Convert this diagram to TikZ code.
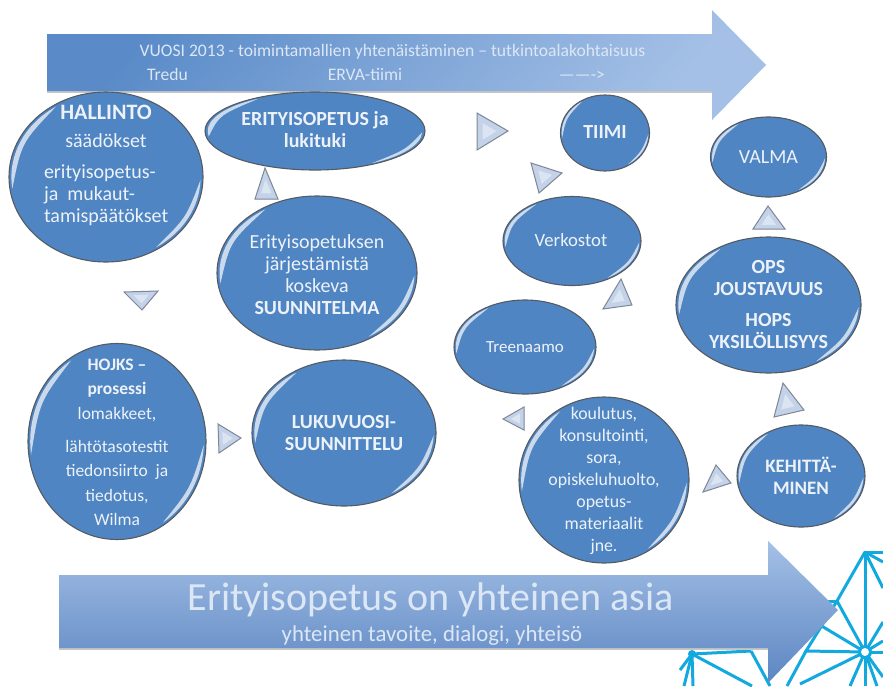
\documentclass[tikz,border=0pt]{standalone}
\usepackage{fontspec}
\setmainfont{Carlito}
\usetikzlibrary{shapes.geometric,calc}
\definecolor{bubfill}{HTML}{4F85C2}
\definecolor{bubline}{HTML}{555B63}
\definecolor{txtc}{HTML}{EDF2F9}
\definecolor{toptxt}{HTML}{DCE7F5}
\definecolor{star}{HTML}{12A9DE}
\definecolor{trifill}{HTML}{C3D2E8}
\definecolor{triline}{HTML}{7E8794}
\definecolor{arrA}{HTML}{5A8BC8}
\definecolor{arrB}{HTML}{A4C0E6}
\definecolor{arrC}{HTML}{5C86C2}
\newcommand{\bubsize}{20}
\tikzset{
  bubble/.style={ellipse,draw=bubline,line width=1.1pt,fill=bubfill,inner sep=0pt},
  bubtext/.style={text=txtc,align=center,inner sep=0pt,font=\fontsize{\bubsize}{22}\selectfont},
  hilite/.style={fill=white,opacity=.7},
  tribox/.style={draw=triline,line width=1pt,fill=trifill,line join=miter},
  trihl/.style={fill=white,opacity=.4},
  starline/.style={draw=star,line width=3pt,line cap=butt},
  bannertext/.style={text=toptxt,inner sep=0pt,font=\fontsize{17.6}{20}\selectfont},
}
% name, cx, cy, rx, ry, text dx, text dy, text
\newcommand{\bub}[8]{%
  \node[bubble,minimum width=2*#4 pt,minimum height=2*#5 pt] (#1) at (#2,#3) {};
  \begin{scope}[shift={(#2,#3)},x=#4 pt,y=#5 pt]
    \fill[hilite] (188:.975) arc[start angle=188,end angle=122,radius=.975]
      .. controls (155:.96) .. (188:.975);
    \fill[hilite] (-2:.975) arc[start angle=-2,end angle=-58,radius=.975]
      .. controls (-30:.955) .. (-2:.975);
  \end{scope}
  \node[bubtext] (#1-t) at (#2+#6,#3+#7) {#8};
}
% name, three corners
\newcommand{\tri}[4]{%
  \coordinate (#1a) at #2; \coordinate (#1b) at #3; \coordinate (#1c) at #4;
  \coordinate (#1m) at (barycentric cs:#1a=1,#1b=1,#1c=1);
  \draw[tribox] (#1a) -- (#1b) -- (#1c) -- cycle;
  \fill[trihl] ($(#1m)!.45!(#1a)$) -- ($(#1m)!.45!(#1b)$) -- ($(#1m)!.45!(#1c)$) -- cycle;
}
\begin{document}
\begin{tikzpicture}[x=1pt,y=-1pt]
\useasboundingbox (0,0) rectangle (883,686);
\fill[white] (0,0) rectangle (883,686);

% star pattern
\coordinate (hubA) at (865,652);
\coordinate (hubB) at (692,654);
\coordinate (starTop) at (865,552);
\coordinate (starMid) at (837,601);
\coordinate (starLow) at (806,651);
\coordinate (starR) at (751,651);
\draw[starline] (883,552) -- (starTop) -- (hubA);
\draw[starline] (starTop) -- (starMid) -- (hubA);
\draw[starline] (starMid) -- (starLow) -- (hubA);
\draw[starline] (starMid) -- (812,601);
\draw[starline] (815,622) -- (hubA);
\draw[starline] (starTop) -- (883,562);
\draw[starline] (starTop) -- (883,588);
\draw[starline] (hubA) -- (883,652);
\draw[starline] (hubA) -- (883,641);
\draw[starline] (hubA) -- (883,622);
\draw[starline] (hubA) -- (800,684);
\draw[starline] (hubA) -- (850,686);
\draw[starline] (hubA) -- (865,686);
\draw[starline] (hubA) -- (877,686);
\draw[starline] (hubA) -- (883,677);
\draw[starline] (starLow) -- (787,686);
\draw[starline] (starR) -- (770,686);
\draw[starline] (hubB) -- (752,686);
\draw[starline] (hubB) -- (693,686);
\draw[starline] (hubB) -- (684,686);
\draw[starline] (hubB) -- (680,670);
\draw[starline] (hubB) -- (starR);
\fill[star] (hubB) circle (4);
\fill[star] (hubA) circle (7);
\fill[white] (hubA) circle (4);

% banner arrows
\fill[gray!45] (47,91) rectangle (712,93);
\shade[left color=arrA,right color=arrB,shading angle=50]
  (47,34) -- (712,34) -- (712,10) -- (766,65) -- (712,120) -- (712,91) -- (47,91) -- cycle;
\node[bannertext] (top1) at (392.5,52) {VUOSI 2013 - toimintamallien yhtenäistäminen – tutkintoalakohtaisuus};
\node[bannertext] (top2) at (167.5,74) {Tredu};
\node[bannertext] (top3) at (365,74) {ERVA-tiimi};
\node[bannertext] (top4) at (582,75.5) {------->};

\fill[gray!45] (59,648) rectangle (768,650);
\shade[top color=arrB,bottom color=arrC]
  (59,575) -- (768,575) -- (768,541) -- (838,610) -- (768,683) -- (768,648) -- (59,648) -- cycle;
\node[text=toptxt,inner sep=0pt,font=\fontsize{40}{44}\selectfont] (low1) at (430.5,600) {Erityisopetus on yhteinen asia};
\node[text=toptxt,inner sep=0pt,font=\fontsize{22.8}{26}\selectfont] (low2) at (432,636) {yhteinen tavoite, dialogi, yhteisö};

% bubbles
\bub{hallinto}{106}{177}{97}{85}{0}{-12}{\fontsize{22}{24}\selectfont\textbf{HALLINTO}\\[6pt]
  säädökset\\[9pt]\makebox[124pt][l]{erityisopetus-}\\\makebox[124pt][l]{ja\ \ mukaut-}\\\makebox[124pt][l]{tamispäätökset}}
\bub{erityis}{315}{131}{110}{39}{0}{-1}{\textbf{ERITYISOPETUS ja}\\\textbf{lukituki}}
\bub{suunn}{317}{273}{100}{77}{0}{2}{Erityisopetuksen\\järjestämistä\\koskeva\\\textbf{SUUNNITELMA}}
\renewcommand{\bubsize}{17.5}
\bub{hojks}{117}{441.5}{89}{98}{0}{1}{\textbf{HOJKS –}\\[2.5pt]\textbf{prosessi}\\[2.5pt]lomakkeet,\\[11pt]lähtötasotestit\\[2.5pt]tiedonsiirto\ \ ja\\[2.5pt]tiedotus,\\[2.5pt]Wilma}
\renewcommand{\bubsize}{20}
\bub{luku}{344}{433}{92}{73}{0}{0}{\textbf{LUKUVUOSI-}\\\textbf{SUUNNITTELU}}
\bub{tiimi}{605}{133}{44.5}{38}{0}{-1}{\textbf{TIIMI}}
\bub{valma}{768.5}{157}{58}{40}{0}{0}{VALMA}
\renewcommand{\bubsize}{18.7}
\bub{verk}{572}{241}{69}{44.5}{-1}{-1}{Verkostot}
\renewcommand{\bubsize}{20}
\bub{ops}{768.5}{305}{92.5}{68}{0}{0}{\textbf{OPS}\\\textbf{JOUSTAVUUS}\\[9pt]\textbf{HOPS}\\\textbf{YKSILÖLLISYYS}}
\renewcommand{\bubsize}{17}
\bub{treen}{525}{347}{71}{47}{0}{0}{Treenaamo}
\renewcommand{\bubsize}{17.8}
\bub{koul}{604}{480}{85}{83}{0}{1}{koulutus,\\konsultointi,\\sora,\\opiskeluhuolto,\\opetus-\\materiaalit\\jne.}
\renewcommand{\bubsize}{19}
\bub{kehit}{801}{476}{64}{51}{0}{0}{\textbf{KEHITTÄ-}\\\textbf{MINEN}}

% triangles
\tri{t1}{(265,168)}{(255,199)}{(278,199)}
\tri{t2}{(124,292)}{(158,291)}{(142,310)}
\tri{t3}{(218,424)}{(219,453)}{(241,438)}
\tri{t4}{(477,113)}{(477,150)}{(508,131)}
\tri{t5}{(531,163)}{(562,173)}{(539,193)}
\tri{t6}{(603,309)}{(632,305)}{(621,279)}
\tri{t7}{(503,419)}{(524,407)}{(524,430)}
\tri{t8}{(703,492)}{(731,483)}{(716,465)}
\tri{t9}{(774,417)}{(804,410)}{(783,383)}
\tri{t10}{(753,229)}{(785,229)}{(768,206)}
\end{tikzpicture}
\end{document}
